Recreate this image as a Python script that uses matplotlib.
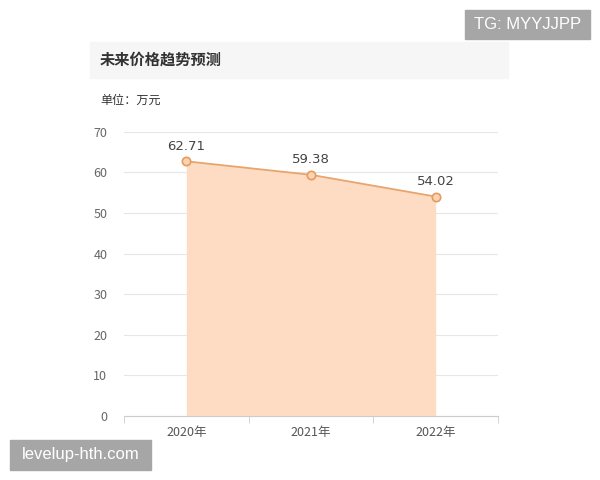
import matplotlib.pyplot as plt
from matplotlib.patches import Rectangle

plt.rcParams['font.family'] = ['Noto Sans CJK SC', 'DejaVu Sans']

years = ['2020年', '2021年', '2022年']
prices = [62.71, 59.38, 54.02]
y_ticks = [0, 10, 20, 30, 40, 50, 60, 70]

W, H = 600, 480
fig = plt.figure(figsize=(6, 4.8), dpi=100)


def box(x0, y0, x1, y1, color):
    # pixel coords, top-left origin
    fig.patches.append(Rectangle((x0 / W, 1 - y1 / H), (x1 - x0) / W, (y1 - y0) / H,
                                 transform=fig.transFigure, color=color, zorder=0))


# title band
box(90, 42, 508, 78, '#f6f6f6')
fig.text(100 / W, 1 - 60 / H, '未来价格趋势预测', fontsize=11, fontweight='bold',
         color='#333333', va='center', ha='left')
fig.text(100 / W, 1 - 100 / H, '单位：万元', fontsize=8.7, color='#333333',
         va='center', ha='left')

ax = fig.add_axes([124 / W, 1 - 416 / H, 374 / W, (416 - 131.7) / H])
x = list(range(len(years)))
ax.fill_between(x, prices, 0, color='#fddcc3', linewidth=0, zorder=2)
ax.plot(x, prices, color='#e9a46c', linewidth=1.3, marker='o', markersize=6,
        markerfacecolor='#fbd3b3', markeredgecolor='#e39b5e', markeredgewidth=1.2, zorder=3)
for xi, v in zip(x, prices):
    ax.annotate(f'{v:.2f}', (xi, v), xytext=(0, 6), textcoords='offset points',
                ha='center', va='bottom', fontsize=9.5, color='#444444',
                family='DejaVu Sans')

ax.set_xlim(-0.5, 2.5)
ax.set_ylim(0, 70)
ax.set_yticks(y_ticks)
ax.set_xticks(x)
ax.set_xticklabels(years)
ax.set_xticks([-0.5, 0.5, 1.5, 2.5], minor=True)
ax.tick_params(axis='x', which='major', length=0, pad=7, labelsize=9, labelcolor='#555555')
ax.tick_params(axis='x', which='minor', length=5, color='#cccccc', direction='out')
ax.tick_params(axis='y', length=0, pad=12, labelsize=9, labelcolor='#666666')
ax.grid(axis='y', color='#e6e6e6', linewidth=0.8, zorder=1)
ax.set_axisbelow(True)
for s in ['top', 'right', 'left']:
    ax.spines[s].set_visible(False)
ax.spines['bottom'].set_color('#cccccc')
ax.spines['bottom'].set_zorder(4)
ax.patch.set_alpha(0)

# watermarks
box(465, 10, 590, 39, '#a6a6a6')
fig.text(527.5 / W, 1 - 24.5 / H, 'TG: MYYJJPP', fontsize=12, color='white',
         family='Liberation Sans', ha='center', va='center')
box(10, 440, 151, 470, '#a6a6a6')
fig.text(80.5 / W, 1 - 455 / H, 'levelup-hth.com', fontsize=12, color='white',
         family='Liberation Sans', ha='center', va='center')

fig.savefig('out.png', dpi=100)
